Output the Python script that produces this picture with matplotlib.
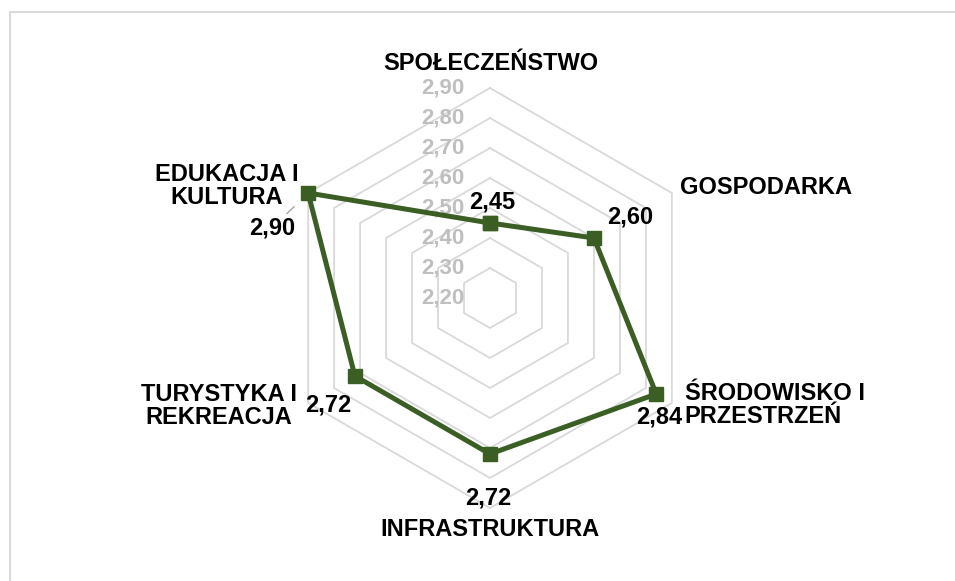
import numpy as np
import matplotlib
matplotlib.use("Agg")
import matplotlib.pyplot as plt
from matplotlib.patches import Rectangle

plt.rcParams['font.family'] = ['Liberation Sans', 'DejaVu Sans']
plt.rcParams['font.weight'] = 'bold'

categories = ["SPOŁECZEŃSTWO", "GOSPODARKA", "ŚRODOWISKO I\nPRZESTRZEŃ",
              "INFRASTRUKTURA", "TURYSTYKA I\nREKREACJA", "EDUKACJA I\nKULTURA"]
values = [2.45, 2.60, 2.84, 2.72, 2.72, 2.90]
ticks = [2.20, 2.30, 2.40, 2.50, 2.60, 2.70, 2.80, 2.90]

# label placement (offset in pixels, alignment)
cat_offsets = [(1, 25), (8, 5), (13, -2), (0, -22), (-11, -3), (-10, 7)]
cat_ha = ['center', 'left', 'left', 'center', 'right', 'right']
cat_ma = ['center', 'left', 'left', 'center', 'center', 'center']
val_offsets = [(2, 21), (36, 21), (3, -23), (-2, -44), (-27, -29), (-36, -35)]

green = '#3b5e25'
grid_col = '#d9d9d9'

W, H = 955, 581
fig = plt.figure(figsize=(W / 100, H / 100), dpi=100)

# light frame around the chart area (runs off the right and bottom edges)
fig.patches.append(Rectangle((9.5 / W, -0.1), 1.2, 1.1 - 12.5 / H, transform=fig.transFigure,
                             fill=False, edgecolor=grid_col, lw=1.5))

cx, cy, R = 490, 298, 210
ax = fig.add_axes([(cx - R) / W, (H - cy - R) / H, 2 * R / W, 2 * R / H], projection='polar')
ax.set_theta_offset(np.pi / 2)
ax.set_theta_direction(-1)
ax.set_ylim(ticks[0], ticks[-1])
ax.grid(False)
ax.set_xticks([])
ax.set_yticks([])
ax.spines['polar'].set_visible(False)
ax.patch.set_alpha(0)

n = len(categories)
theta = np.linspace(0, 2 * np.pi, n, endpoint=False)
theta_closed = np.append(theta, theta[0])

# hexagonal grid rings
for t in ticks[1:]:
    ax.plot(theta_closed, [t] * (n + 1), color=grid_col, lw=1.3, zorder=1, clip_on=False)

# value axis labels
for t in ticks:
    ax.annotate(f"{t:.2f}".replace('.', ','), xy=(0, t), xytext=(-25, 0),
                textcoords='offset pixels', ha='right', va='center',
                fontsize=16, color='#bfbfbf', zorder=2)

vals_closed = values + values[:1]
ax.plot(theta_closed, vals_closed, color=green, lw=3.6, marker='s',
        markersize=10.5, markerfacecolor=green, markeredgecolor=green,
        zorder=3, clip_on=False)

for th, cat, off, ha, ma in zip(theta, categories, cat_offsets, cat_ha, cat_ma):
    ax.annotate(cat, xy=(th, ticks[-1]), xytext=off, textcoords='offset pixels',
                ha=ha, va='center', multialignment=ma, linespacing=1.05,
                fontsize=17, color='black', annotation_clip=False)

for i, (th, v, off) in enumerate(zip(theta, values, val_offsets)):
    props = None
    if i == n - 1:
        props = dict(arrowstyle='-', color='#a6a6a6', lw=1, shrinkA=0, shrinkB=14)
    ax.annotate(f"{v:.2f}".replace('.', ','), xy=(th, v), xytext=off,
                textcoords='offset pixels', ha='center', va='center',
                fontsize=17, color='black', arrowprops=props,
                annotation_clip=False, zorder=4)

fig.savefig("out.png", dpi=100)
